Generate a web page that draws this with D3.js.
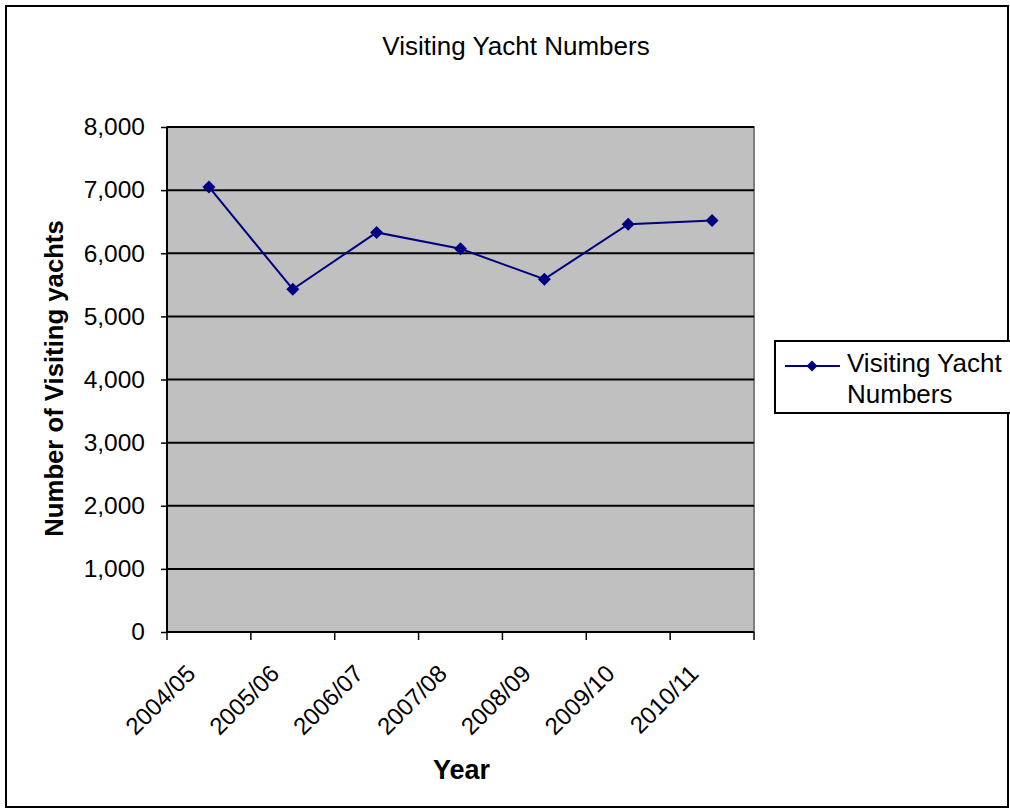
<!DOCTYPE html>
<html>
<head>
<meta charset="utf-8">
<script src="https://cdn.jsdelivr.net/npm/d3@7/dist/d3.min.js"></script>
<style>
  html, body { margin: 0; padding: 0; background: #fff; }
  svg { display: block; }
  text { font-family: "Liberation Sans", Arial, sans-serif; fill: #000; }
</style>
</head>
<body>
<svg id="chart" width="1010" height="811"></svg>
<script>
const categories = ["2004/05", "2005/06", "2006/07", "2007/08", "2008/09", "2009/10", "2010/11"];
const values = [7050, 5430, 6330, 6070, 5590, 6460, 6520];
const yTicks = [0, 1000, 2000, 3000, 4000, 5000, 6000, 7000, 8000];
const seriesName = "Visiting Yacht Numbers";
const titleText = "Visiting Yacht Numbers";
const xTitle = "Year";
const yTitle = "Number of Visiting yachts";

const svg = d3.select("#chart");
const plot = { left: 167, right: 754, top: 127, bottom: 632 };

// outer border
svg.append("rect").attr("x", 6).attr("y", 6).attr("width", 1002).attr("height", 801)
  .attr("fill", "#fff").attr("stroke", "#000").attr("stroke-width", 2);

const x = d3.scaleBand().domain(categories).range([plot.left, plot.right]).paddingInner(0).paddingOuter(0);
const y = d3.scaleLinear().domain([0, 8000]).range([plot.bottom, plot.top]);

// plot background
svg.append("rect").attr("x", plot.left).attr("y", plot.top)
  .attr("width", plot.right - plot.left).attr("height", plot.bottom - plot.top)
  .attr("fill", "#c0c0c0").attr("stroke", "#808080").attr("stroke-width", 2);

// gridlines
svg.append("g").selectAll("line").data(yTicks.filter(d => d > 0)).join("line")
  .attr("x1", plot.left).attr("x2", plot.right)
  .attr("y1", d => y(d)).attr("y2", d => y(d))
  .attr("stroke", "#000").attr("stroke-width", 2);

// y axis
const yAxis = d3.axisLeft(y).tickValues(yTicks).tickFormat(d3.format(",")).tickSize(6).tickPadding(16);
const gy = svg.append("g").attr("transform", `translate(${plot.left},0)`).call(yAxis);
gy.select(".domain").attr("stroke", "#000").attr("stroke-width", 2).attr("d", `M0,${plot.top}V${plot.bottom}`);
gy.selectAll(".tick line").attr("stroke", "#000").attr("stroke-width", 1.5);
gy.selectAll(".tick text").style("font-size", "24.5px").style("font-family", "'Liberation Sans', Arial, sans-serif").attr("fill", "#000");

// x axis
const xAxis = d3.axisBottom(x).tickSize(0).tickFormat("");
const gx = svg.append("g").attr("transform", `translate(0,${plot.bottom})`).call(xAxis);
gx.select(".domain").attr("stroke", "#000").attr("stroke-width", 2).attr("d", `M${plot.left},0H${plot.right}`);
gx.selectAll(".tick").remove();
const boundaries = categories.map(c => x(c)).concat([x(categories[categories.length - 1]) + x.bandwidth()]);
gx.selectAll("line.bt").data(boundaries).join("line").attr("class", "bt")
  .attr("x1", d => d).attr("x2", d => d).attr("y1", 0).attr("y2", 8)
  .attr("stroke", "#000").attr("stroke-width", 1.5);

svg.append("g").selectAll("text").data(categories).join("text")
  .attr("transform", d => `translate(${x(d) + x.bandwidth() / 2 - 12},${plot.bottom + 43}) rotate(-45)`)
  .attr("text-anchor", "end")
  .style("font-size", "24px")
  .text(d => d);

// line
const line = d3.line().x((d, i) => x(categories[i]) + x.bandwidth() / 2).y(d => y(d));
svg.append("path").datum(values).attr("d", line)
  .attr("fill", "none").attr("stroke", "#000080").attr("stroke-width", 2);

const diamond = s => `M0,${-s}L${s},0L0,${s}L${-s},0Z`;
svg.append("g").selectAll("path").data(values).join("path")
  .attr("transform", (d, i) => `translate(${x(categories[i]) + x.bandwidth() / 2},${y(d)})`)
  .attr("d", diamond(6.5)).attr("fill", "#000080");

// title
svg.append("text").attr("x", 516).attr("y", 55).attr("text-anchor", "middle")
  .style("font-size", "26px").text(titleText);

// axis titles
svg.append("text").attr("x", 461.5).attr("y", 779).attr("text-anchor", "middle")
  .style("font-size", "27px").style("font-weight", "bold").text(xTitle);
svg.append("text").attr("transform", "translate(63,378.5) rotate(-90)").attr("text-anchor", "middle")
  .style("font-size", "25.7px").style("font-weight", "bold").text(yTitle);

// legend
const lg = svg.append("g");
lg.append("rect").attr("x", 775).attr("y", 341).attr("width", 250).attr("height", 72)
  .attr("fill", "#fff").attr("stroke", "#000").attr("stroke-width", 2);
lg.append("line").attr("x1", 785).attr("x2", 840).attr("y1", 366).attr("y2", 366)
  .attr("stroke", "#000080").attr("stroke-width", 2);
lg.append("path").attr("transform", "translate(812,366)").attr("d", diamond(5.5)).attr("fill", "#000080");
const words = seriesName.split(" ");
lg.append("text").attr("x", 847).attr("y", 372).style("font-size", "26px").text(words.slice(0, 2).join(" "));
lg.append("text").attr("x", 847).attr("y", 403).style("font-size", "26px").text(words.slice(2).join(" "));
</script>
</body>
</html>
